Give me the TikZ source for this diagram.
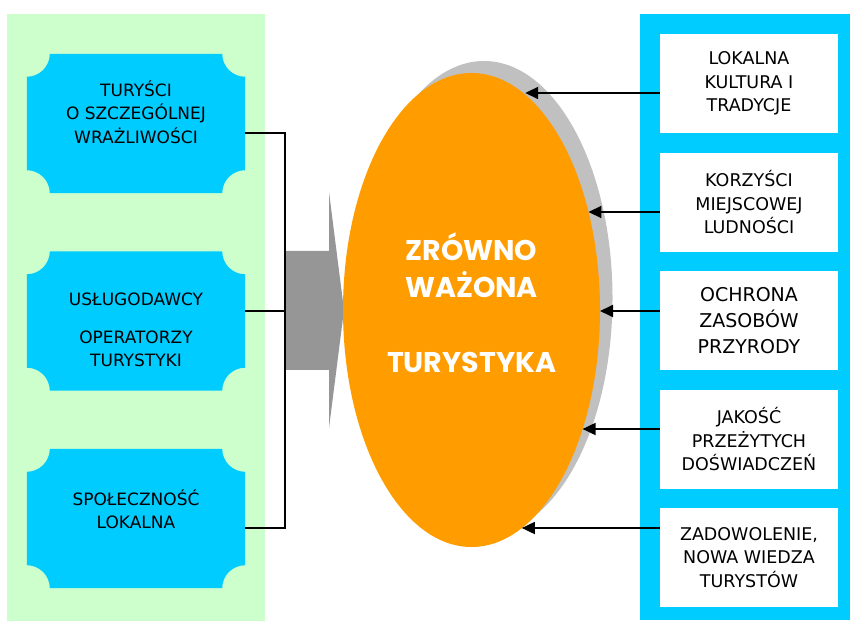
\documentclass[tikz,border=0pt]{standalone}
\usepackage{fontspec}
\setmainfont{DejaVu Sans}
\newfontfamily\boxfont{DejaVu Sans}
\newfontfamily\ovalfont{Poppins}
\usetikzlibrary{arrows.meta,shapes.geometric}

\definecolor{panelgreen}{HTML}{CCFFCC}
\definecolor{skyblue}{HTML}{00CCFF}
\definecolor{ovalorange}{HTML}{FF9C00}
\definecolor{shadowgray}{HTML}{C0C0C0}
\definecolor{blockgray}{HTML}{969696}

% blue box with hollowed corners, #1 = node, #2 = corner radius
\newcommand\notchbox[2]{%
  \fill[skyblue] ([xshift=#2]#1.north west) -- ([xshift=-#2]#1.north east)
    arc[start angle=180, end angle=270, radius=#2] -- ([yshift=#2]#1.south east)
    arc[start angle=90, end angle=180, radius=#2] -- ([xshift=#2]#1.south west)
    arc[start angle=0, end angle=90, radius=#2] -- ([yshift=-#2]#1.north west)
    arc[start angle=270, end angle=360, radius=#2] -- cycle;}

\begin{document}
\begin{tikzpicture}[x=1pt,y=1pt,
    lbox/.style={minimum width=218pt, minimum height=139pt, inner sep=0pt},
    ltext/.style={align=center, font=\boxfont\fontsize{17}{23.5}\selectfont},
    rbox/.style={fill=white, minimum width=178pt, minimum height=99pt, inner sep=0pt,
                 align=center, font=\boxfont\fontsize{17.5}{23.5}\selectfont},
    oval/.style={ellipse, minimum width=257pt, minimum height=474pt, inner sep=0pt, outer sep=0pt},
    conn/.style={line width=1.6pt},
    arr/.style={line width=1.8pt, -{Triangle[length=13pt,width=12pt]}}]

  \useasboundingbox (0,0) rectangle (850,621);

  % panels
  \fill[panelgreen] (7,0) rectangle (265,607);
  \fill[skyblue] (640,1) rectangle (850,607);

  % left boxes
  \node[lbox] (l1) at (136,497.5) {};
  \node[lbox] (l2) at (136,300) {};
  \node[lbox] (l3) at (136,102.5) {};
  \foreach \b in {l1,l2,l3} {\notchbox{\b}{23pt}}
  \node[ltext] (t1) at (136,509) {TURYŚCI\\O SZCZEGÓLNEJ\\WRAŻLIWOŚCI};
  \node[ltext] (t2) at (136,291) {USŁUGODAWCY\\[14pt]OPERATORZY\\TURYSTYKI};
  \node[ltext] (t3) at (136,112) {SPOŁECZNOŚĆ\\LOKALNA};

  % big grey arrow
  \fill[blockgray] (285,370) -- (329,370) -- (329,429) -- (344,311)
    -- (329,193) -- (329,251) -- (285,251) -- cycle;

  % centre
  \node[oval, fill=shadowgray] (zwshadow) at (484,323) {};
  \node[oval, fill=ovalorange] (zw) at (471.5,311) {};
  \node[text=white, align=center, font=\ovalfont\bfseries\fontsize{28.5}{37}\selectfont]
    (zwtext) at ([yshift=7pt]zw.center) {ZRÓWNO\\WAŻONA\\[38pt]TURYSTYKA};

  % right boxes
  \node[rbox] (r1) at (749,537.5) {LOKALNA\\KULTURA I\\TRADYCJE};
  \node[rbox] (r2) at (749,418.5) {KORZYŚCI\\MIEJSCOWEJ\\LUDNOŚCI};
  \node[rbox, font=\boxfont\fontsize{19}{26}\selectfont] (r3) at (749,300.5) {OCHRONA\\ZASOBÓW\\PRZYRODY};
  \node[rbox] (r4) at (749,181.5) {JAKOŚĆ\\PRZEŻYTYCH\\DOŚWIADCZEŃ};
  \node[rbox] (r5) at (749,63.5) {ZADOWOLENIE,\\NOWA WIEDZA\\TURYSTÓW};

  % connectors
  \coordinate (bus) at (285,310);
  \draw[conn] ([yshift=-9.5pt]l1.east) -| (bus) |- ([yshift=-9.5pt]l3.east);
  \draw[conn] ([yshift=10pt]l2.east) -- (bus);

  \draw[arr] ([yshift=-9.5pt]r1.west) -- ([yshift=-9.5pt]r1.west -| zw.76.6);
  \draw[arr] ([yshift=-9.5pt]r2.west) -- ([yshift=-9.5pt]r2.west -| zw.40);
  \draw[arr] ([yshift=9.5pt]r3.west) -- ([yshift=9.5pt]r3.west -| zw.east);
  \draw[arr] ([yshift=10.5pt]r4.west) -- ([yshift=10.5pt]r4.west -| zw.-47);
  \draw[arr] ([yshift=29.5pt]r5.west) -- ([yshift=29.5pt]r5.west -| zw.-77);
\end{tikzpicture}
\end{document}
